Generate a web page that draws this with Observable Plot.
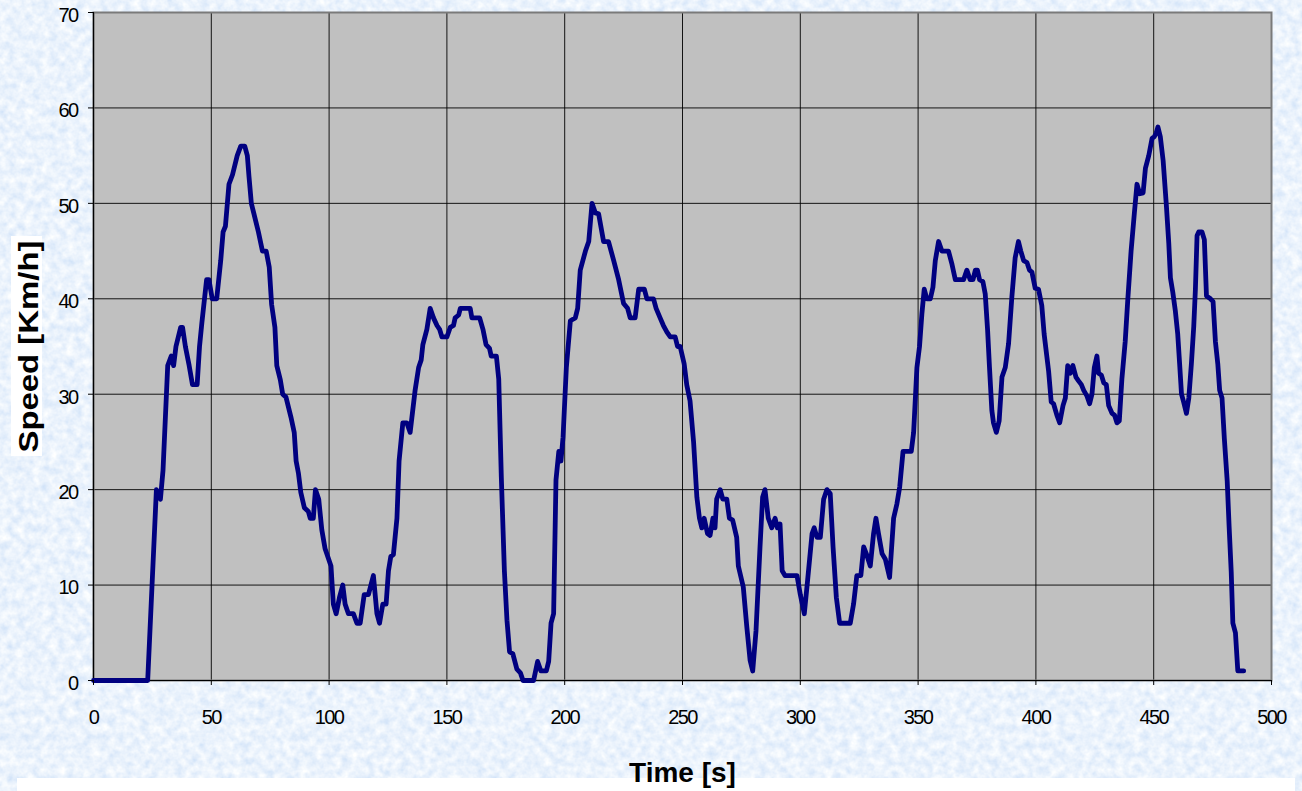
<!DOCTYPE html>
<html>
<head>
<meta charset="utf-8">
<script src="https://cdn.jsdelivr.net/npm/d3@7"></script>
<script src="https://cdn.jsdelivr.net/npm/@observablehq/plot@0.6"></script>
<style>
  html, body { margin: 0; padding: 0; background: #d4e6fa; }
  #stage { position: relative; width: 1302px; height: 791px; overflow: hidden; }
  #paper, #chart { position: absolute; left: 0; top: 0; }
</style>
</head>
<body>
<div id="stage">
  <!-- tissue-paper backdrop -->
  <svg id="paper" width="1302" height="791">
    <defs>
      <filter id="tissue" x="0" y="0" width="100%" height="100%">
        <feTurbulence type="fractalNoise" baseFrequency="0.12" numOctaves="3" seed="7" result="n"/>
        <feColorMatrix in="n" type="matrix"
          values="0.45 0 0 0 0.605
                  0.30 0 0 0 0.745
                  0.08 0 0 0 0.935
                  0 0 0 0 1"/>
      </filter>
    </defs>
    <rect width="1302" height="791" filter="url(#tissue)"/>
  </svg>
  <div id="chart"></div>
</div>
<script>
// Drive cycle: vehicle speed sampled over time
const time = [
  0, 23, 26.7, 28.4, 29.5, 31.5, 33, 34, 35, 37, 37.8, 39, 40.6, 42, 44, 45, 46, 48, 49, 50.4,
  52.3, 54, 55, 56, 57.5, 59, 61, 62.5, 64.2, 65.3, 66, 67, 68, 70, 71.7, 73.3, 74.6, 75.6, 77, 77.8,
  79.3, 80.3, 81.7, 83.8, 85.2, 86, 87, 88, 89.5, 91.2, 92, 93.3, 94.2, 95.6, 96.9, 98.3, 100.8, 101.8, 103, 104.4,
  105.8, 106.8, 108.2, 110.3, 111.8, 113.2, 114.9, 116.7, 118.8, 120.3, 121.4, 122.8, 124.2, 125.2, 126.2, 127.3, 128.8, 129.7, 131.3, 133,
  134.4, 136.5, 138, 139.1, 139.8, 141.5, 142.9, 144.3, 145.8, 146.9, 147.9, 150, 151.4, 152.8, 153.5, 155, 155.7, 159.9, 160.6, 163.9,
  165.3, 166.6, 168.1, 168.8, 171, 172, 173.1, 174.4, 175.5, 176.6, 178, 179.7, 181.2, 182.3, 186.8, 188.5, 189.9, 192.2, 193.2, 194.2,
  195.3, 196.3, 197.5, 198.4, 199.3, 200.7, 202.4, 204.5, 205.5, 206.6, 208.8, 210.2, 211.6, 213, 214.4, 216.5, 218.6, 220.8, 222.9, 225,
  226.7, 227.8, 229.9, 231.4, 233.8, 234.9, 237.7, 238.8, 240.5, 241.9, 243.4, 244.8, 246.9, 247.9, 249, 250.7, 251.8, 253.2, 254.7, 256.1,
  257.2, 258.2, 259.2, 260.6, 261.7, 262.9, 263.8, 264.5, 266, 267.1, 268.8, 269.9, 271.3, 273, 273.7, 275.8, 277.3, 278.7, 279.8, 281.2,
  282.9, 284, 285, 286.4, 287.9, 289.3, 290.3, 291.4, 292.3, 293.5, 298.6, 300, 301.7, 303.1, 305, 305.9, 307.1, 308.5, 309.9, 311.3,
  312.7, 313.9, 315.3, 316.7, 321.2, 322.6, 324, 325.7, 326.9, 328, 329.7, 331.1, 332.1, 333.2, 334.7, 336.1, 337.9, 339.6, 341, 342.2,
  343.6, 347.1, 348.1, 349.5, 350.6, 351.6, 352.6, 353.7, 355.2, 356.3, 357.3, 358.7, 360.1, 362.9, 364.4, 365.8, 369.3, 370.7, 372.1, 373.3,
  374.3, 375.2, 376.1, 377.5, 378.5, 379.5, 380.3, 381.3, 382, 383.2, 384.4, 385.6, 387, 388.4, 389.8, 391.2, 392.6, 393.6, 394.8, 396.2,
  397.3, 398.3, 399.7, 401.1, 402.5, 403.5, 405.4, 406.5, 407.5, 408.9, 410.1, 411.5, 412.5, 413.5, 414.6, 415.7, 417, 418.1, 419.3, 420.3,
  421.7, 422.8, 423.8, 424.8, 425.9, 426.6, 427.8, 428.8, 429.9, 430.9, 432.3, 433.4, 434.4, 435.4, 436.5, 437.9, 439, 440.4, 441.8, 442.9,
  444.1, 445.5, 446.5, 447.9, 449.3, 450.3, 451.1, 451.8, 452.8, 454, 455.4, 456.4, 457.1, 458.1, 459.2, 460.2, 461, 461.8, 462.7, 463.9,
  464.9, 466, 467, 467.7, 468.4, 469.1, 470.5, 471.5, 472.4, 474.1, 475.2, 476.2, 477.2, 478, 479, 480, 481.2, 482, 482.9, 483.6,
  484.7, 485.7, 488.2
];
const speed = [
  0, 0, 20, 19, 22, 33, 34, 33, 35, 37, 37, 35, 33, 31, 31, 35, 37.5, 42, 42, 40,
  40, 44, 47, 47.6, 52, 53, 55, 56, 56, 55, 52.8, 50, 49, 47, 45, 45, 43.3, 39.4, 37, 33,
  31.5, 30, 29.7, 27.6, 26, 23, 21.7, 19.7, 18.1, 17.7, 17, 17, 20, 19, 15.8, 13.8, 12, 8, 7, 8.7,
  10, 8, 7, 7, 6, 6, 9, 9, 11, 7, 6, 8, 8, 11.5, 13, 13.2, 17, 23, 27, 27,
  26, 30.4, 32.8, 33.6, 35.2, 36.8, 39, 38, 37.2, 36.8, 36, 36, 37, 37.2, 38, 38.3, 39, 39, 38, 38,
  36.8, 35.2, 34.8, 34, 34, 31.6, 21.3, 11.5, 6.3, 3, 2.8, 1.2, 0.8, 0, 0, 2, 1, 1, 2, 6,
  7, 21, 24, 23, 25.5, 32.8, 37.7, 38, 39, 43, 45, 46, 50, 49, 48.9, 46, 46, 44, 42, 39.5,
  39, 38, 38, 41, 41, 40, 40, 39, 38, 37.2, 36.5, 36, 36, 35, 35, 33.2, 31, 29.3, 25, 19.2,
  17, 16, 17, 15.4, 15.2, 17, 16, 19, 20, 19, 19, 17, 16.8, 15, 12, 9.8, 5.6, 2.1, 1, 5.2,
  14, 19.2, 20, 17, 16, 17, 16, 16.4, 11.5, 11, 11, 9, 7, 10.5, 15.4, 16, 15, 15, 19, 20,
  19.6, 14, 8.7, 6, 6, 8, 11, 11, 14, 13.3, 12, 15.4, 17, 15.4, 13.3, 12.7, 10.8, 17, 18.5, 20.3,
  24, 24, 26, 32.8, 35, 38.4, 41, 40, 40, 41.2, 44, 46, 45, 45, 43.6, 42, 42, 43, 42, 42,
  43, 43, 42, 41.8, 40.5, 36.7, 32.8, 28.3, 27, 26, 27.2, 31.8, 32.8, 35.3, 40.2, 44.3, 46, 45, 44, 43.8,
  43, 42.8, 41.1, 41, 39.3, 36.3, 32.4, 29.2, 29, 27.8, 27, 28.8, 29.6, 33, 32.2, 33, 31.8, 31.4, 31, 30.4,
  29.8, 29, 30, 32.8, 34, 32.2, 32, 31.2, 31, 28.8, 28, 27.8, 27, 27.2, 31.6, 35.5, 39.9, 45, 49, 52,
  51, 51.1, 53.7, 55, 56.8, 57, 57.4, 58, 57, 54.5, 49.7, 45.8, 42.2, 40.7, 38.7, 36.3, 33.2, 30, 29.2, 28,
  29.6, 33.2, 37.1, 41, 46.6, 47, 47, 46.2, 40.3, 40, 39.7, 35.5, 33.2, 30.4, 29.6, 25.3, 20.9, 16.2, 11.4, 6,
  5, 1, 1
];

// Axis ticks and titles
const timeTicks = [0, 50, 100, 150, 200, 250, 300, 350, 400, 450, 500];
const speedTicks = [0, 10, 20, 30, 40, 50, 60, 70];
const xTitle = "Time [s]";
const yTitle = "Speed [Km/h]";

const rows = time.map((t, i) => ({t, v: speed[i]}));

const font = '"Liberation Sans", Arial, sans-serif';

const chart = Plot.plot({
  width: 1302,
  height: 791,
  marginLeft: 93,
  marginRight: 31,
  marginTop: 12,
  marginBottom: 111,
  // tight digit spacing for the tick labels
  style: {background: "transparent", fontFamily: font, fontSize: "20px", letterSpacing: "-1.6px", color: "#000", overflow: "visible"},
  x: {domain: [0, 500]},
  y: {domain: [0, 70]},
  marks: [
    Plot.frame({fill: "#c0c0c0"}),
    Plot.gridX(timeTicks, {stroke: "#000", strokeOpacity: 0.9, strokeWidth: 1}),
    Plot.gridY(speedTicks, {stroke: "#000", strokeOpacity: 0.9, strokeWidth: 1}),
    Plot.frame({stroke: "#7a7a7a", strokeWidth: 2}),
    Plot.ruleX([0], {stroke: "#000", strokeWidth: 1.2}),
    Plot.ruleY([0], {stroke: "#000", strokeWidth: 1.2}),
    Plot.line(rows, {x: "t", y: "v", stroke: "#000080", strokeWidth: 4.8, strokeLinejoin: "round", strokeLinecap: "round"}),
    // x axis: tick marks and labels
    Plot.axisX(timeTicks, {tickSize: 5, tickPadding: 24, label: null, fontSize: 20}),
    // y axis: tick marks, then labels nudged a little below each tick
    Plot.axisY(speedTicks, {tickSize: 5, fill: null, label: null}),
    Plot.axisY(speedTicks, {tickSize: 0, tickPadding: 16, dy: 3, label: null, fontSize: 20}),
    // axis titles
    Plot.text([xTitle], {
      text: d => d, frameAnchor: "bottom", dy: 101, lineAnchor: "bottom", textAnchor: "middle",
      fontFamily: font, fontWeight: "bold", fontSize: 28, fill: "#000"
    }),
    Plot.text([yTitle], {
      text: d => d, frameAnchor: "left", dx: -56, rotate: -90, lineAnchor: "bottom", textAnchor: "middle",
      fontFamily: font, fontWeight: "bold", fontSize: 28, fill: "#000"
    })
  ]
});

// White panels behind the titles; titles use normal spacing, the vertical one stretched to its box
const svg = d3.select(chart);
svg.insert("rect", ":first-child")
  .attr("x", 17).attr("y", 778).attr("width", 1278).attr("height", 20).attr("fill", "#fff");
svg.insert("rect", ":first-child")
  .attr("x", 11).attr("y", 236).attr("width", 31).attr("height", 220).attr("fill", "#fff");
svg.selectAll("text")
  .filter(function () { return this.textContent === xTitle || this.textContent === yTitle; })
  .style("letter-spacing", "0px");
svg.selectAll("text")
  .filter(function () { return this.textContent === yTitle; })
  .attr("textLength", 212)
  .attr("lengthAdjust", "spacingAndGlyphs");

document.getElementById("chart").appendChild(chart);
</script>
</body>
</html>
